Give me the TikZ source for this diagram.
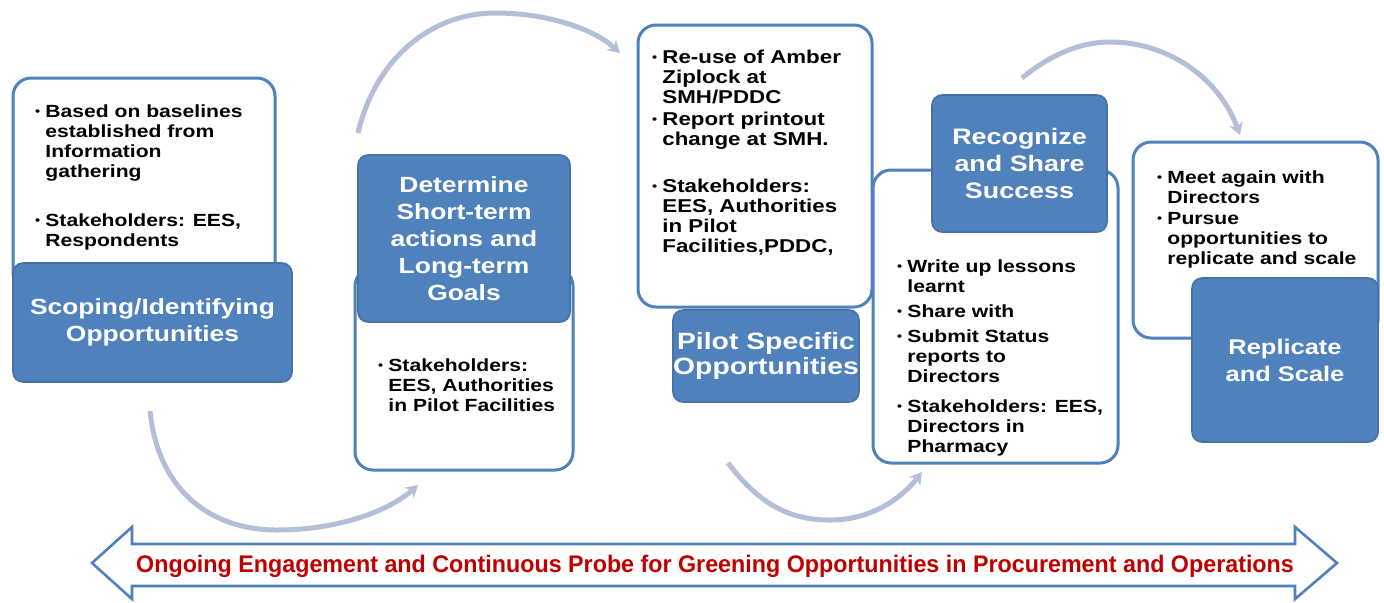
\documentclass[tikz,border=0pt]{standalone}
\usepackage{fontspec}
\setmainfont{Liberation Sans}[FakeStretch=1.2]
\newfontfamily\narrowfont{Liberation Sans}[FakeStretch=0.97]
\usetikzlibrary{arrows.meta}
\definecolor{boxblue}{HTML}{4F81BD}
\definecolor{arcgrey}{HTML}{B3BFD9}
\definecolor{darkred}{HTML}{C00000}
\newcommand\bl[1]{\begin{tabular}[t]{@{}l@{}}#1\end{tabular}}
\newcommand\bu{\llap{\raisebox{0.6pt}{\fontsize{6}{6}\selectfont\textbullet}\hspace{2.6pt}}}
\begin{document}
\begin{tikzpicture}[x=0.5pt,y=-0.5pt,
  whitebox/.style={draw=boxblue, line width=1.5pt, fill=white, rounded corners=9pt, inner sep=0pt},
  bluebox/.style={draw=boxblue!88!black, line width=0.8pt, fill=boxblue, rounded corners=5pt,
     text=white, font=\fontsize{11}{13.5}\selectfont\bfseries, align=center, inner sep=0pt},
  body/.style={font=\fontsize{8.8}{10}\selectfont\bfseries, inner sep=0pt, anchor=base west},
  bodyb/.style={body, font=\fontsize{9.3}{10}\selectfont\bfseries},
  arcline/.style={draw=arcgrey, line width=2.5pt, -{Stealth[length=6pt,width=7pt]}},
  bigarrow/.style={draw=boxblue, line width=1.3pt, fill=white, line join=miter}]
\useasboundingbox[fill=white] (0,0) rectangle (1384,602);

% curved connectors
\coordinate (a1) at (150,411); \coordinate (a2) at (277,530); \coordinate (a3) at (418,485);
\draw[arcline] (a1) .. controls (158,490) and (210,530) .. (a2) .. controls (340,530) and (390,510) .. (a3);
\coordinate (b1) at (358,133); \coordinate (b2) at (495,13); \coordinate (b3) at (620,53);
\draw[arcline] (b1) .. controls (375,60) and (430,13) .. (b2) .. controls (550,13) and (595,30) .. (b3);
\coordinate (c1) at (728,463); \coordinate (c2) at (830,520); \coordinate (c3) at (922,472);
\draw[arcline] (c1) .. controls (760,505) and (790,520) .. (c2) .. controls (870,520) and (900,500) .. (c3);
\coordinate (d1) at (1022,78); \coordinate (d2) at (1110,42); \coordinate (d3) at (1240,135);
\draw[arcline] (d1) .. controls (1050,55) and (1080,42) .. (d2) .. controls (1170,42) and (1220,80) .. (d3);

% box 1
\node[whitebox, minimum width=131pt, minimum height=106pt] (w1) at (144,184) {};
\node[bluebox, minimum width=139.5pt, minimum height=59.5pt] (s1) at (152.5,322.5) {Scoping/Identifying\\Opportunities};
\node[body] (t11) at (45,117) {\bl{\bu Based on baselines\\established from\\Information\\gathering}};
\node[body] (t12) at (45,226) {\bl{\bu Stakeholders: EES,\\Respondents}};

% box 2
\node[whitebox, minimum width=109pt, minimum height=101pt] (w2) at (464,369) {};
\node[bluebox, minimum width=106pt, minimum height=83.5pt] (s2) at (464,238.5) {Determine\\Short-term\\actions and\\Long-term\\Goals};
\node[body] (t21) at (388,371) {\bl{\bu Stakeholders:\\EES, Authorities\\in Pilot Facilities}};

% box 3
\node[whitebox, minimum width=117pt, minimum height=141pt] (w3) at (755,166) {};
\node[bluebox, minimum width=93pt, minimum height=46pt, font=\fontsize{11.8}{12.5}\selectfont\bfseries] (s3) at (766,356) {Pilot Specific\\Opportunities};
\node[bodyb] (t31) at (662,63) {\bl{\bu Re-use of Amber\\Ziplock at\\SMH/PDDC}};
\node[bodyb] (t32) at (662,125) {\bl{\bu Report printout\\change at SMH.}};
\node[bodyb] (t33) at (662,192) {\bl{\bu Stakeholders:\\EES, Authorities\\in Pilot\\Facilities,PDDC,}};

% box 4
\node[whitebox, minimum width=122.5pt, minimum height=146.5pt] (w4) at (995.5,316.5) {};
\node[bluebox, minimum width=87.5pt, minimum height=68.5pt, font=\fontsize{11.2}{13.3}\selectfont\bfseries] (s4) at (1019.5,163.5) {Recognize\\and Share\\Success};
\node[body] (t41) at (907,272) {\bl{\bu Write up lessons\\learnt}};
\node[body] (t42) at (907,317) {\bl{\bu Share with}};
\node[body] (t43) at (907,342) {\bl{\bu Submit Status\\reports to\\Directors}};
\node[body] (t44) at (907,412) {\bl{\bu Stakeholders: EES,\\Directors in\\Pharmacy}};

% box 5
\node[whitebox, minimum width=122.5pt, minimum height=98pt] (w5) at (1255.5,240) {};
\node[bluebox, minimum width=93pt, minimum height=82pt, font=\fontsize{10.6}{13.5}\selectfont\bfseries] (s5) at (1285,360) {Replicate\\and Scale};
\node[body] (t51) at (1167,183) {\bl{\bu Meet again with\\Directors}};
\node[body] (t52) at (1167,224) {\bl{\bu Pursue\\opportunities to\\replicate and scale}};

% bottom double arrow
\draw[bigarrow] (92,563) -- (132,527) -- (132,544) -- (1295,544) -- (1295,527) -- (1337,563)
  -- (1295,599) -- (1295,586) -- (132,586) -- (132,599) -- cycle;
\node[text=darkred, font=\narrowfont\fontsize{12}{12}\selectfont\bfseries, inner sep=0pt] (band) at (715,566)
  {Ongoing Engagement and Continuous Probe for Greening Opportunities in Procurement and Operations};
\end{tikzpicture}
\end{document}
